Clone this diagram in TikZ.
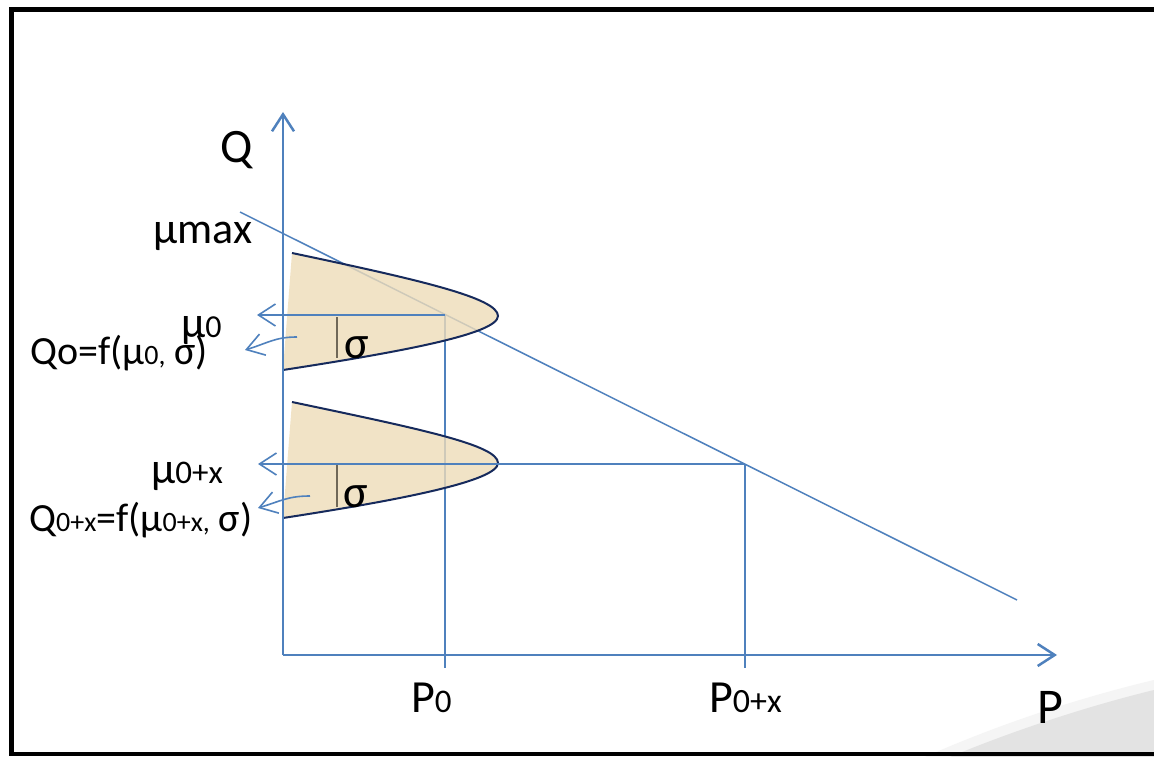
\documentclass[tikz,border=0pt]{standalone}
\usepackage{fontspec}
\setmainfont{Carlito}
\usetikzlibrary{arrows.meta}
\definecolor{axblue}{RGB}{79,129,189}
\definecolor{rimnavy}{RGB}{22,42,92}
\definecolor{bellfill}{RGB}{238,220,184}
\definecolor{sigline}{RGB}{112,104,88}
\newcommand{\fs}[1]{\fontsize{#1}{#1}\selectfont}

\begin{document}
\begin{tikzpicture}[x=1pt,y=-1pt,
    ax/.style={draw=axblue,line width=2.5pt},
    guide/.style={draw=axblue,line width=1.6pt},
    bell/.style={fill=bellfill,fill opacity=0.8},
    rim/.style={draw=rimnavy,line width=2pt},
    lbl/.style={inner sep=0pt,text=black},
    >={Straight Barb[length=17pt,width=22pt]}]
    \useasboundingbox (0,0) rectangle (1154,757);
    \fill[white] (0,0) rectangle (1154,757);
    % page curl
    \fill[gray!8] (925,757) .. controls (990,728) and (1070,700) .. (1154,680) -- (1154,757) -- cycle;
    \fill[gray!22] (950,757) .. controls (1005,734) and (1080,708) .. (1154,690) -- (1154,757) -- cycle;
    \draw[line width=4.5pt] (1154,9.5) -- (11.5,9.5) -- (11.5,754) -- (1154,754);

    \coordinate (O) at (283,655);
    \coordinate (qtip) at (283,112);
    \coordinate (ptip) at (1057,655);
    \coordinate (dstart) at (240,212);
    \coordinate (dend) at (1017,600);
    \coordinate (m0) at (445,315);
    \coordinate (m0x) at (745,464);
    \coordinate (m0tip) at (257,315);
    \coordinate (m0xtip) at (258,464);
    \coordinate (p0) at (445,668);
    \coordinate (p0x) at (745,668);

    \draw[guide,line width=1.5pt] (dstart) -- (dend);
    \draw[guide] (m0) -- (p0);
    \draw[guide] (m0x) -- (p0x);

    \path[bell] (292,253) .. controls (420,280) and (498,298) .. (498,316) .. controls (498,334) and (400,352) .. (283,370) -- cycle;
    \draw[rim] (292,253) .. controls (420,280) and (498,298) .. (498,316) .. controls (498,334) and (400,352) .. (283,370);
    \path[bell] (292,402) .. controls (420,429) and (498,445) .. (498,463) .. controls (498,481) and (400,500) .. (283,518) -- cycle;
    \draw[rim] (292,402) .. controls (420,429) and (498,445) .. (498,463) .. controls (498,481) and (400,500) .. (283,518);

    \draw[sigline,line width=1.6pt] (337,317) -- (337,358);
    \draw[sigline,line width=1.6pt] (337,465) -- (337,507);

    \draw[guide,->] (m0) -- (m0tip);
    \draw[guide,->] (m0x) -- (m0xtip);
    \draw[guide,->] (297,337) .. controls (275,337) and (268,343) .. (245,350);
    \draw[guide,->] (310,496) .. controls (288,496) and (281,501) .. (258,508);

    \draw[ax,->] (O) -- (qtip);
    \draw[ax,->] (O) -- (ptip);

    \node[lbl,anchor=base,font=\fs{48}] (qlab) at (237,163) {Q};
    \node[lbl,anchor=base,font=\fs{50}] (plab) at (1050,723) {P};
    \node[lbl,anchor=base west,font=\fs{44}] (mumax) at (153,243) {μmax};
    \node[lbl,anchor=base west,font=\fs{44}] (mu0) at (181,337) {μ\fs{32}0};
    \node[lbl,anchor=base west,font=\fs{44}] (mu0x) at (151,483) {μ\fs{33}0+x};
    \node[lbl,anchor=base west,font=\fs{40}] (q0) at (30,364) {Qo=f(μ{\fs{28}0,} σ)};
    \node[lbl,anchor=base west,font=\fs{40}] (q0x) at (29,531) {Q{\fs{28}0+x}=f(μ{\fs{28}0+x,} σ)};
    \node[lbl,anchor=base,font=\fs{46}] (sig0) at (357,358) {σ};
    \node[lbl,anchor=base,font=\fs{46}] (sig0x) at (356,507) {σ};
    \node[lbl,anchor=base west,font=\fs{46}] (p0lab) at (411,712) {P\fs{33}0};
    \node[lbl,anchor=base west,font=\fs{46}] (p0xlab) at (709,712) {P\fs{34}0+x};
\end{tikzpicture}
\end{document}
